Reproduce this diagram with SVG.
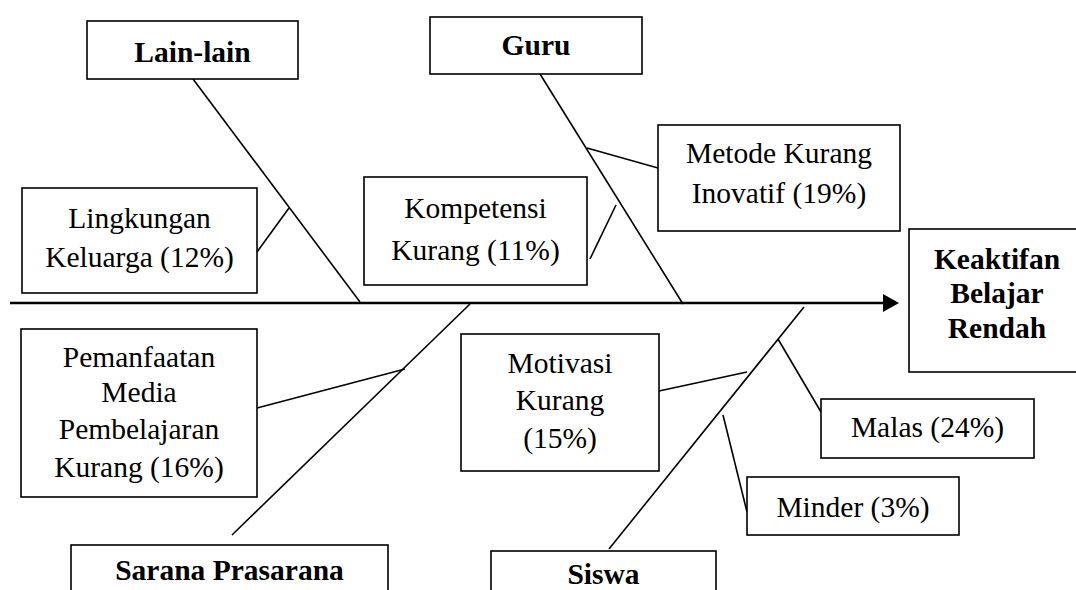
<svg xmlns="http://www.w3.org/2000/svg" width="1076" height="590" viewBox="0 0 1076 590">
<defs>
<style>
.box{fill:#fff;stroke:#000;stroke-width:1.6}
.t{font-family:"Liberation Serif","Times New Roman",serif;font-size:29.5px;fill:#000;text-anchor:middle}
.b{font-weight:bold}
.ln{stroke:#000;stroke-width:1.6;fill:none}
.axis{stroke:#000;stroke-width:2.5;fill:none}
</style>
<marker id="arrow" viewBox="0 0 16 18" refX="7" refY="9" markerWidth="16" markerHeight="18" markerUnits="userSpaceOnUse" orient="auto">
<path d="M0,0 L16,9 L0,18 Z" fill="#000"/>
</marker>
</defs>
<rect width="1076" height="590" fill="#fff"/>
<g id="connectors">
<line class="axis" x1="10" y1="303" x2="890" y2="303" marker-end="url(#arrow)"/>
<line class="ln" x1="193" y1="79" x2="360" y2="302"/>
<line class="ln" x1="257" y1="252" x2="289" y2="208"/>
<line class="ln" x1="540" y1="74" x2="683" y2="304"/>
<line class="ln" x1="587" y1="148" x2="658" y2="168"/>
<line class="ln" x1="590" y1="259" x2="616" y2="205"/>
<line class="ln" x1="470" y1="304" x2="232" y2="535"/>
<line class="ln" x1="257" y1="408" x2="405" y2="369"/>
<line class="ln" x1="804" y1="307" x2="609" y2="549"/>
<line class="ln" x1="659" y1="391" x2="747" y2="372"/>
<line class="ln" x1="778" y1="339" x2="821" y2="412"/>
<line class="ln" x1="723" y1="415" x2="747" y2="512"/>
</g>
<g id="lain-lain">
<rect class="box" x="87" y="21" width="211" height="58"/>
<text class="t b" x="192.5" y="62">Lain-lain</text>
</g>
<g id="guru">
<rect class="box" x="430" y="17" width="212" height="57"/>
<text class="t b" x="536" y="55">Guru</text>
</g>
<g id="metode">
<rect class="box" x="658" y="125" width="242" height="106"/>
<text class="t" x="779" y="163">Metode Kurang</text>
<text class="t" x="779" y="203">Inovatif (19%)</text>
</g>
<g id="lingkungan">
<rect class="box" x="22" y="188" width="235" height="105"/>
<text class="t" x="139.5" y="228">Lingkungan</text>
<text class="t" x="139.5" y="267">Keluarga (12%)</text>
</g>
<g id="kompetensi">
<rect class="box" x="364" y="177" width="223" height="108"/>
<text class="t" x="475.5" y="218">Kompetensi</text>
<text class="t" x="475.5" y="260">Kurang (11%)</text>
</g>
<g id="keaktifan">
<rect class="box" x="909" y="229" width="180" height="143"/>
<text class="t b" x="997" y="269">Keaktifan</text>
<text class="t b" x="997" y="303">Belajar</text>
<text class="t b" x="997" y="338">Rendah</text>
</g>
<g id="pemanfaatan">
<rect class="box" x="21" y="329" width="236" height="168"/>
<text class="t" x="139" y="367">Pemanfaatan</text>
<text class="t" x="139" y="402">Media</text>
<text class="t" x="139" y="439">Pembelajaran</text>
<text class="t" x="139" y="477">Kurang (16%)</text>
</g>
<g id="motivasi">
<rect class="box" x="461" y="334" width="198" height="137"/>
<text class="t" x="560" y="373">Motivasi</text>
<text class="t" x="560" y="410">Kurang</text>
<text class="t" x="560" y="448">(15%)</text>
</g>
<g id="malas">
<rect class="box" x="821" y="399" width="213" height="59"/>
<text class="t" x="927.5" y="437">Malas (24%)</text>
</g>
<g id="minder">
<rect class="box" x="747" y="477" width="212" height="58"/>
<text class="t" x="853" y="517">Minder (3%)</text>
</g>
<g id="sarana">
<rect class="box" x="71" y="545" width="317" height="60"/>
<text class="t b" x="229.5" y="580">Sarana Prasarana</text>
</g>
<g id="siswa">
<rect class="box" x="491" y="551" width="225" height="60"/>
<text class="t b" x="603.5" y="584">Siswa</text>
</g>
</svg>
